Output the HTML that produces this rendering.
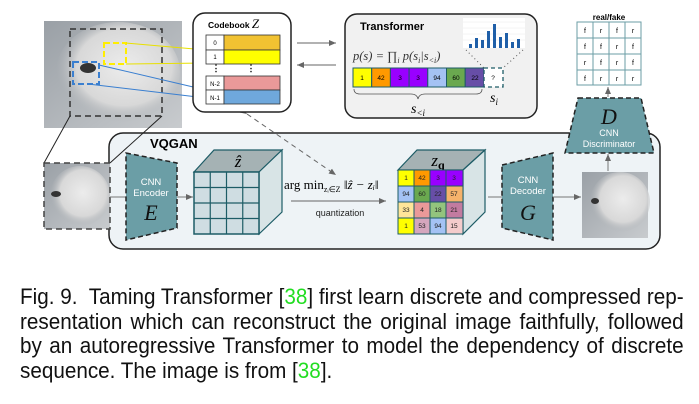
<!DOCTYPE html>
<html><head><meta charset="utf-8"><style>
body{margin:0;width:699px;height:404px;background:#fff;overflow:hidden;position:relative;font-family:"Liberation Sans",sans-serif}
svg{position:absolute;left:0;top:0}
.cap{position:absolute;left:20px;width:706px;font-size:22px;line-height:24.7px;top:285px;color:#111;transform:scaleX(0.94);transform-origin:0 0}
.l{text-align:justify;text-align-last:justify;white-space:nowrap}
.g{color:#22dd22}
</style></head><body>
<svg width="699" height="280" viewBox="0 0 699 280" font-family="Liberation Sans, sans-serif">
<defs>
<marker id="a" markerWidth="8" markerHeight="8" refX="7" refY="4" orient="auto" markerUnits="userSpaceOnUse"><path d="M0,1 L7,4 L0,7z" fill="#666"/></marker>
<linearGradient id="ph" x1="0" y1="0" x2="1" y2="1"><stop offset="0" stop-color="#9aa0a6"/><stop offset="1" stop-color="#c8cbce"/></linearGradient>
<radialGradient id="dog" cx="0.55" cy="0.45" r="0.55"><stop offset="0" stop-color="#ececec"/><stop offset="0.7" stop-color="#d8d8d8"/><stop offset="1" stop-color="#b0b4b8" stop-opacity="0"/></radialGradient>
</defs>
<rect x="109" y="133" width="551" height="116" rx="14" fill="#eef3f6" stroke="#222" stroke-width="1.5"/>
<text x="150" y="148" font-size="13" font-weight="bold">VQGAN</text>
<rect x="44" y="21" width="138" height="107" fill="url(#ph)"/>
<ellipse cx="118" cy="72" rx="62" ry="50" fill="url(#dog)"/>
<ellipse cx="88" cy="68" rx="8" ry="5" fill="#333"/>
<rect x="70" y="29" width="92" height="87" fill="none" stroke="#333" stroke-width="1.5" stroke-dasharray="6,4"/>
<rect x="104" y="43" width="22" height="21" fill="none" stroke="#ffee00" stroke-width="2" stroke-dasharray="6,3"/>
<rect x="73" y="62" width="26" height="22" fill="none" stroke="#3a7fd0" stroke-width="2" stroke-dasharray="6,3"/>
<line x1="126" y1="43" x2="206" y2="50" stroke="#e8e000" stroke-width="1"/>
<line x1="126" y1="64" x2="206" y2="63" stroke="#e8e000" stroke-width="1"/>
<line x1="99" y1="65" x2="206" y2="90" stroke="#3a7fd0" stroke-width="1"/>
<line x1="88" y1="84" x2="206" y2="98" stroke="#3a7fd0" stroke-width="1"/>
<line x1="70" y1="116" x2="44" y2="163" stroke="#222"/>
<line x1="162" y1="116" x2="110" y2="163" stroke="#222"/>
<rect x="44" y="163" width="66" height="66" fill="url(#ph)"/>
<ellipse cx="80" cy="196" rx="30" ry="30" fill="url(#dog)"/>
<ellipse cx="56" cy="194" rx="5" ry="3" fill="#333"/>
<rect x="44" y="163" width="66" height="66" fill="none" stroke="#444" stroke-width="1.5" stroke-dasharray="6,4"/>
<line x1="110" y1="197" x2="126" y2="197" stroke="#777"/>
<polygon points="126,153 177,163 177,228 126,240" fill="#6b9ea6" stroke="#222" stroke-width="1.5" stroke-dasharray="5,3"/>
<text x="151" y="185" font-size="9.5" fill="#fff" text-anchor="middle">CNN</text>
<text x="151" y="196" font-size="9.5" fill="#fff" text-anchor="middle">Encoder</text>
<text x="151" y="220" font-size="22" font-style="italic" font-family="Liberation Serif, serif" text-anchor="middle" fill="#111">E</text>
<line x1="177" y1="197" x2="193" y2="197" stroke="#777" marker-end="url(#a)"/>
<polygon points="194,172 214,150 282,150 259,172" fill="#a5b2b4" stroke="#1d5c66" stroke-width="1.2"/>
<polygon points="259,172 282,150 282,212 259,234" fill="#d8e4e6" stroke="#1d5c66" stroke-width="1.2"/>
<rect x="194" y="172" width="65" height="62" fill="#cfdde2" stroke="#1d5c66" stroke-width="1.5"/>
<g stroke="#1d5c66" stroke-width="1.2">
<line x1="210.25" y1="172" x2="210.25" y2="234"/><line x1="226.5" y1="172" x2="226.5" y2="234"/><line x1="242.75" y1="172" x2="242.75" y2="234"/>
<line x1="194" y1="187.5" x2="259" y2="187.5"/><line x1="194" y1="203" x2="259" y2="203"/><line x1="194" y1="218.5" x2="259" y2="218.5"/></g>
<text x="238" y="167" font-size="17" font-style="italic" font-family="Liberation Serif, serif" text-anchor="middle">ẑ</text>
<text x="284" y="189" font-size="13" font-family="Liberation Serif, serif">arg min<tspan font-size="8" dy="3">zᵢ∈Z</tspan><tspan dy="-3" font-style="italic"> ‖ẑ − zᵢ‖</tspan></text>
<line x1="291" y1="201" x2="386" y2="201" stroke="#666" marker-end="url(#a)"/>
<text x="340" y="216" font-size="9" text-anchor="middle" fill="#222">quantization</text>
<line x1="247" y1="114" x2="336" y2="175" stroke="#666" stroke-dasharray="5,4" marker-end="url(#a)" marker-start="url(#a)"/>
<polygon points="398,170 417,150 485,150 463,170" fill="#a5b2b4" stroke="#1d5c66" stroke-width="1.2"/>
<polygon points="463,170 485,150 485,212 463,234" fill="#d8e4e6" stroke="#1d5c66" stroke-width="1.2"/>
<text x="438" y="166" font-size="17" font-style="italic" font-family="Liberation Serif, serif" text-anchor="middle">z<tspan font-size="12" font-weight="bold" font-style="normal" dy="3">q</tspan></text>
<g stroke="#1d5c66" stroke-width="1">
<rect x="398" y="170" width="16" height="16" fill="#ffff00"/><rect x="414" y="170" width="16" height="16" fill="#ff9900"/><rect x="430" y="170" width="16" height="16" fill="#9900ff"/><rect x="446" y="170" width="17" height="16" fill="#9900ff"/>
<rect x="398" y="186" width="16" height="16" fill="#a4c2f4"/><rect x="414" y="186" width="16" height="16" fill="#6aa84f"/><rect x="430" y="186" width="16" height="16" fill="#674ea7"/><rect x="446" y="186" width="17" height="16" fill="#f6b26b"/>
<rect x="398" y="202" width="16" height="16" fill="#ffe599"/><rect x="414" y="202" width="16" height="16" fill="#ea9999"/><rect x="430" y="202" width="16" height="16" fill="#93c47d"/><rect x="446" y="202" width="17" height="16" fill="#c27ba0"/>
<rect x="398" y="218" width="16" height="16" fill="#ffff00"/><rect x="414" y="218" width="16" height="16" fill="#d5a6bd"/><rect x="430" y="218" width="16" height="16" fill="#a4c2f4"/><rect x="446" y="218" width="17" height="16" fill="#f4cccc"/>
</g>
<g font-size="6.5" text-anchor="middle" fill="#222">
<text x="406" y="180">1</text><text x="422" y="180">42</text><text x="438" y="180">3</text><text x="454" y="180">3</text>
<text x="406" y="196">94</text><text x="422" y="196">60</text><text x="438" y="196">22</text><text x="454" y="196">57</text>
<text x="406" y="212">33</text><text x="422" y="212">4</text><text x="438" y="212">18</text><text x="454" y="212">21</text>
<text x="406" y="228">1</text><text x="422" y="228">53</text><text x="438" y="228">94</text><text x="454" y="228">15</text></g>
<line x1="488" y1="197" x2="502" y2="197" stroke="#777"/>
<polygon points="502,165 553,153 553,240 502,228" fill="#6b9ea6" stroke="#222" stroke-width="1.5" stroke-dasharray="5,3"/>
<text x="528" y="183" font-size="9.5" fill="#fff" text-anchor="middle">CNN</text>
<text x="528" y="194" font-size="9.5" fill="#fff" text-anchor="middle">Decoder</text>
<text x="528" y="220" font-size="22" font-style="italic" font-family="Liberation Serif, serif" text-anchor="middle" fill="#111">G</text>
<line x1="553" y1="197" x2="581" y2="197" stroke="#777" marker-end="url(#a)"/>
<rect x="582" y="172" width="66" height="66" fill="url(#ph)"/>
<ellipse cx="620" cy="202" rx="30" ry="30" fill="url(#dog)"/>
<ellipse cx="595" cy="201" rx="4" ry="3" fill="#333"/>
<line x1="608" y1="171" x2="608" y2="154" stroke="#777" marker-end="url(#a)"/>
<polygon points="578,98 641,98 654,153 565,153" fill="#6b9ea6" stroke="#222" stroke-width="1.5" stroke-dasharray="5,3"/>
<text x="609" y="124" font-size="22" font-style="italic" font-family="Liberation Serif, serif" text-anchor="middle" fill="#111">D</text>
<text x="609" y="136" font-size="9" fill="#fff" text-anchor="middle">CNN</text>
<text x="609" y="147" font-size="9" fill="#fff" text-anchor="middle">Discriminator</text>
<line x1="608" y1="97" x2="608" y2="87" stroke="#777" marker-end="url(#a)"/>
<text x="609" y="20" font-size="8" font-weight="bold" text-anchor="middle">real/fake</text>
<g stroke="#6b9ea6" stroke-width="1" fill="#fff"><rect x="577" y="22" width="64" height="63"/>
<line x1="593" y1="22" x2="593" y2="85"/><line x1="609" y1="22" x2="609" y2="85"/><line x1="625" y1="22" x2="625" y2="85"/>
<line x1="577" y1="38" x2="641" y2="38"/><line x1="577" y1="54" x2="641" y2="54"/><line x1="577" y1="70" x2="641" y2="70"/></g>
<g font-size="7" text-anchor="middle">
<text x="585" y="33">f</text><text x="601" y="33">r</text><text x="617" y="33">f</text><text x="633" y="33">r</text>
<text x="585" y="49">f</text><text x="601" y="49">f</text><text x="617" y="49">r</text><text x="633" y="49">f</text>
<text x="585" y="65">r</text><text x="601" y="65">f</text><text x="617" y="65">r</text><text x="633" y="65">f</text>
<text x="585" y="81">f</text><text x="601" y="81">r</text><text x="617" y="81">r</text><text x="633" y="81">r</text></g>
<rect x="193" y="13" width="98" height="99" rx="12" fill="#fff" stroke="#222" stroke-width="1.5"/>
<text x="208" y="28" font-size="8.5" font-weight="bold">Codebook <tspan font-family="Liberation Serif, serif" font-style="italic" font-size="13" font-weight="normal">Z</tspan></text>
<g stroke="#333" stroke-width="0.8">
<rect x="206" y="35" width="18" height="15" fill="#fff"/><rect x="224" y="35" width="56" height="15" fill="#f1c232"/>
<rect x="206" y="50" width="18" height="14" fill="#fff"/><rect x="224" y="50" width="56" height="14" fill="#ffff00"/>
<rect x="206" y="76" width="18" height="14" fill="#fff"/><rect x="224" y="76" width="56" height="14" fill="#ea9999"/>
<rect x="206" y="90" width="18" height="14" fill="#fff"/><rect x="224" y="90" width="56" height="14" fill="#6fa8dc"/></g>
<g font-size="6" text-anchor="middle"><text x="215" y="45">0</text><text x="215" y="59">1</text><text x="215" y="86">N-2</text><text x="215" y="100">N-1</text>
<text x="216" y="71" font-size="9" font-weight="bold">⋮</text><text x="251" y="71" font-size="9" font-weight="bold">⋮</text></g>
<line x1="297" y1="43" x2="336" y2="43" stroke="#666" marker-end="url(#a)"/>
<line x1="336" y1="65" x2="297" y2="65" stroke="#666" marker-end="url(#a)"/>
<rect x="345" y="14" width="192" height="104" rx="12" fill="#f1f1f1" stroke="#222" stroke-width="1.5"/>
<text x="360" y="30" font-size="11" font-weight="bold">Transformer</text>
<rect x="463" y="18" width="62" height="30" fill="#fff"/>
<g stroke="#e8e8e8" stroke-width="0.5"><line x1="463" y1="22" x2="525" y2="22"/><line x1="463" y1="28" x2="525" y2="28"/><line x1="463" y1="34" x2="525" y2="34"/><line x1="463" y1="40" x2="525" y2="40"/></g>
<g fill="#1f5fa8"><rect x="469" y="44" width="3" height="4"/><rect x="475" y="38" width="3" height="10"/><rect x="481" y="40" width="3" height="8"/><rect x="487" y="31" width="3" height="17"/><rect x="493" y="24" width="3" height="24"/><rect x="499" y="37" width="3" height="11"/><rect x="505" y="33" width="3" height="15"/><rect x="511" y="42" width="3" height="6"/><rect x="517" y="39" width="3" height="9"/></g>
<text x="353" y="60" font-size="12.5" font-style="italic" font-family="Liberation Serif, serif" fill="#333">p(s) = ∏<tspan font-size="8" dy="3">i</tspan><tspan dy="-3"> p(s</tspan><tspan font-size="8" dy="3">i</tspan><tspan dy="-3">|s</tspan><tspan font-size="8" dy="3">&lt;i</tspan><tspan dy="-3">)</tspan></text>
<line x1="466" y1="50" x2="484" y2="68" stroke="#555" stroke-dasharray="1,3"/>
<line x1="523" y1="50" x2="503" y2="68" stroke="#555" stroke-dasharray="1,3"/>
<g stroke="#1d5c66" stroke-width="1">
<rect x="353" y="68" width="18.7" height="19" fill="#ffff00"/><rect x="371.7" y="68" width="18.7" height="19" fill="#ff9900"/><rect x="390.4" y="68" width="18.7" height="19" fill="#9900ff"/><rect x="409.1" y="68" width="18.7" height="19" fill="#9900ff"/><rect x="427.8" y="68" width="18.7" height="19" fill="#a4c2f4"/><rect x="446.5" y="68" width="18.7" height="19" fill="#6aa84f"/><rect x="465.2" y="68" width="18.8" height="19" fill="#674ea7"/>
<rect x="484" y="68" width="19" height="19" fill="#fff" stroke-dasharray="4,3" stroke-width="1.3"/></g>
<g font-size="6.5" text-anchor="middle"><text x="362" y="80">1</text><text x="381" y="80">42</text><text x="400" y="80">3</text><text x="418" y="80">3</text><text x="437" y="80">94</text><text x="456" y="80">60</text><text x="475" y="80">22</text><text x="493" y="80">?</text></g>
<path d="M354,89 Q354,94 360,94 L411,94 Q417,94 418,99 Q419,94 425,94 L476,94 Q482,94 482,89" fill="none" stroke="#555" stroke-width="0.8"/>
<text x="418" y="113" font-size="14" font-style="italic" font-family="Liberation Serif, serif" text-anchor="middle">s<tspan font-size="9" dy="3">&lt;i</tspan></text>
<text x="490" y="102" font-size="14" font-style="italic" font-family="Liberation Serif, serif">s<tspan font-size="9" dy="3">i</tspan></text>
</svg>
<div class="cap">
<div class="l">Fig. 9.&nbsp; Taming Transformer [<span class="g">38</span>] first learn discrete and compressed rep-</div>
<div class="l">resentation which can reconstruct the original image faithfully, followed</div>
<div class="l">by an autoregressive Transformer to model the dependency of discrete</div>
<div style="white-space:nowrap">sequence. The image is from [<span class="g">38</span>].</div>
</div>
</body></html>
